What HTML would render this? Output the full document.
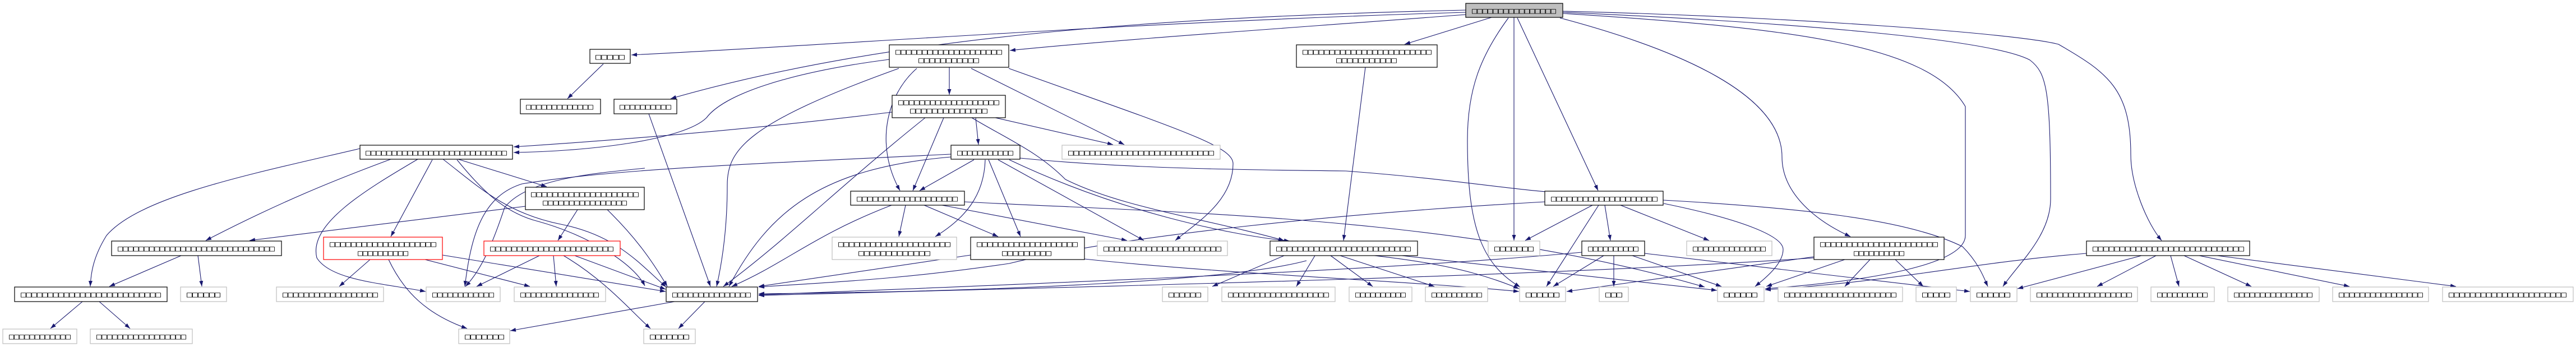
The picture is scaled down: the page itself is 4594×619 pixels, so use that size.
<!DOCTYPE html>
<html><head><meta charset="utf-8"><style>
html,body{margin:0;padding:0;background:#fff;width:4594px;height:619px;overflow:hidden}
svg{display:block}
text{font-family:"DejaVu Sans Mono","Liberation Mono",monospace;font-size:14px;fill:#000}
.n{fill:#fff;stroke:#000;stroke-width:1.2}
.g{fill:#fff;stroke:#bfbfbf;stroke-width:1.2}
.r{fill:#fff;stroke:#ff0000;stroke-width:1.2}
.e{fill:none;stroke:#191970;stroke-width:1.1}
</style></head><body>
<svg width="4594" height="619" viewBox="0 0 4594 619" xmlns="http://www.w3.org/2000/svg">
<defs><marker id="a" markerWidth="11" markerHeight="8" refX="10" refY="3.5" orient="auto" markerUnits="userSpaceOnUse"><path d="M0,0 L10,3.5 L0,7 z" fill="#191970"/></marker></defs>
<g class="e" marker-end="url(#a)">
<!-- root edges -->
<path d="M2614,22 C2000,40 1500,80 1126,98"/>
<path d="M2614,18 C2100,30 1600,60 1196,176"/>
<path d="M2614,26 C2300,50 2000,70 1801,90"/>
<path d="M2660,31 L2505,79"/>
<path d="M2690,32 C2640,100 2617,160 2617,250 C2617,400 2640,470 2711,512"/>
<path d="M2700,31 L2700,429"/>
<path d="M2706,32 L2850,340"/>
<path d="M2782,32 C3000,90 3178,170 3178,280 C3178,340 3230,390 3300,422"/>
<path d="M2787,20 C3200,30 3600,60 3671,79 C3760,130 3800,160 3800,276 C3800,330 3830,400 3855,429"/>
<path d="M2787,22 C3200,40 3550,70 3620,107 C3650,130 3657,160 3657,355 C3657,420 3600,470 3572,511"/>
<path d="M2787,24 C3200,50 3440,80 3505,190 C3505,300 3505,395 3505,420 C3505,470 3350,500 3148,515"/>
<!-- A -->
<path d="M1076,114 L1012,176"/>
<path d="M1157,203 L1267,511"/>
<!-- G1 -->
<path d="M1693,120 L1693,169"/>
<path d="M1603,122 C1330,220 1297,268 1297,330 C1297,420 1285,480 1278,511"/>
<path d="M1635,122 C1580,170 1560,260 1605,340"/>
<path d="M1732,122 L2005,258"/>
<path d="M1799,122 C2100,230 2199,260 2199,292 C2199,360 2130,400 2096,429"/>
<path d="M1586,106 C1400,130 1290,170 1260,210 C1220,250 1050,270 916,272"/>
<!-- G2 -->
<path d="M1591,200 C1350,230 1100,250 916,262"/>
<path d="M1740,210 L1745,258"/>
<path d="M1683,210 L1628,340"/>
<path d="M1650,210 C1500,330 1400,430 1290,511"/>
<path d="M1775,210 L1985,258"/>
<path d="M1733,210 C1800,250 1850,270 1900,320 C2000,370 2150,390 2290,429"/>
<!-- G3 -->
<path d="M1737,285 L1640,340"/>
<path d="M1696,280 C1460,300 1370,380 1300,511"/>
<path d="M1757,285 C1755,350 1720,390 1668,422"/>
<path d="M1763,285 L1820,422"/>
<path d="M1780,285 L2040,429"/>
<path d="M1819,282 C2000,300 2200,303 2400,305 C2600,320 2700,340 2800,345"/>
<path d="M1696,275 C1400,290 1100,300 931,328 C860,350 840,420 829,511"/>
<path d="M1800,285 C2000,380 2200,420 2300,430"/>
<!-- G5 -->
<path d="M1615,366 L1603,422"/>
<path d="M1648,366 L1780,422"/>
<path d="M1590,366 C1450,420 1400,470 1305,511"/>
<path d="M1680,366 L2010,429"/>
<path d="M1720,360 C2100,380 2600,385 3040,512"/>
<!-- G7 -->
<path d="M1731,455 L1353,511"/>
<path d="M1934,462 C2200,490 2500,500 2709,520"/>
<!-- long lines to H1 -->
<path d="M2755,360 C2400,380 2000,420 1800,470 C1600,500 1450,505 1353,512"/>
<path d="M2330,465 C2200,500 1800,520 1353,524"/>
<path d="M2821,450 C2500,480 2000,500 1353,526"/>
<path d="M3235,460 C2800,490 2200,505 1353,527"/>
<!-- G9, I1 -->
<path d="M2435,120 L2396,429"/>
<path d="M2290,456 L2162,511"/>
<path d="M2345,456 L2312,511"/>
<path d="M2373,456 L2448,511"/>
<path d="M2390,456 L2558,511"/>
<path d="M2500,456 L3062,518"/>
<path d="M2300,440 C2500,460 2600,470 2709,515"/>
<!-- I2 -->
<path d="M2840,366 L2720,429"/>
<path d="M2851,366 L2758,511"/>
<path d="M2862,366 L2872,429"/>
<path d="M2890,366 L3048,429"/>
<path d="M2967,363 C3100,390 3180,420 3180,445 C3180,470 3150,495 3130,511"/>
<path d="M2966,357 C3200,370 3400,390 3500,440 C3530,470 3540,500 3545,511"/>
<!-- I4 -->
<path d="M2860,456 L2770,511"/>
<path d="M2878,456 L2878,511"/>
<path d="M2911,456 L3070,511"/>
<path d="M2933,452 L3513,520"/>
<!-- I6 -->
<path d="M3290,463 L3150,511"/>
<path d="M3335,463 L3290,511"/>
<path d="M3380,463 L3430,511"/>
<path d="M3235,458 L2794,520"/>
<!-- K1 -->
<path d="M3819,456 L3598,515"/>
<path d="M3845,456 L3740,511"/>
<path d="M3871,456 L3886,511"/>
<path d="M3895,456 L4015,511"/>
<path d="M3922,456 L4190,511"/>
<path d="M3954,456 L4380,511"/>
<path d="M3721,452 C3500,470 3400,500 3148,517"/>
<!-- B1 -->
<path d="M642,265 C450,310 250,350 190,420 C165,460 162,490 161,511"/>
<path d="M697,284 C600,320 500,360 367,429"/>
<path d="M745,284 C650,340 550,400 565,460 C590,500 680,505 759,520"/>
<path d="M771,285 L697,422"/>
<path d="M815,285 C860,340 900,380 960,395 C1050,420 1130,470 1150,510"/>
<path d="M817,284 L975,333"/>
<path d="M790,284 C850,330 900,380 1000,400 C1100,420 1140,470 1188,512"/>
<!-- C1 -->
<path d="M937,368 L445,429"/>
<path d="M1030,374 L995,429"/>
<path d="M1083,374 C1130,420 1160,460 1190,511"/>
<path d="M1150,300 C1050,310 940,320 900,370 C880,430 860,480 830,511"/>
<!-- D -->
<path d="M323,456 L195,511"/>
<path d="M353,456 L360,511"/>
<path d="M147,538 L90,586"/>
<path d="M177,538 L232,586"/>
<path d="M660,463 L605,511"/>
<path d="M693,463 C720,520 760,560 833,586"/>
<path d="M758,463 L945,511"/>
<path d="M789,455 L1187,520"/>
<path d="M962,456 L850,511"/>
<path d="M987,456 L992,511"/>
<path d="M1005,456 C1080,500 1130,560 1160,586"/>
<path d="M1025,456 L1187,516"/>
<!-- H1 -->
<path d="M1257,538 L1210,586"/>
<path d="M1203,538 L910,590"/>
</g>
<!-- nodes -->
<g>
<rect x="2614" y="6" width="173" height="25" fill="#bfbfbf" stroke="#000" stroke-width="1.2"/><text x="2625" y="24" textLength="150" lengthAdjust="spacingAndGlyphs">□□□□□□□□□□□□□□□□</text>
<rect class="n" x="1052" y="88" width="72" height="25"/><text x="1062" y="106" textLength="52" lengthAdjust="spacingAndGlyphs">□□□□□</text>
<rect class="n" x="928" y="177" width="143" height="26"/><text x="938" y="195" textLength="120" lengthAdjust="spacingAndGlyphs">□□□□□□□□□□□□□</text>
<rect class="n" x="1095" y="177" width="112" height="26"/><text x="1105" y="195" textLength="92" lengthAdjust="spacingAndGlyphs">□□□□□□□□□□</text>
<rect class="n" x="642" y="259" width="272" height="25"/><text x="652" y="277" textLength="252" lengthAdjust="spacingAndGlyphs">□□□□□□□□□□□□□□□□□□□□□□□□□□□</text>
<rect class="n" x="937" y="334" width="212" height="40"/><text x="947" y="351" textLength="192" lengthAdjust="spacingAndGlyphs">□□□□□□□□□□□□□□□□□□□□</text><text x="968" y="366" textLength="150" lengthAdjust="spacingAndGlyphs">□□□□□□□□□□□□□□□□</text>
<rect class="n" x="199" y="430" width="303" height="26"/><text x="210" y="448" textLength="280" lengthAdjust="spacingAndGlyphs">□□□□□□□□□□□□□□□□□□□□□□□□□□□□□□</text>
<rect class="r" x="577" y="423" width="212" height="40"/><text x="588" y="440" textLength="190" lengthAdjust="spacingAndGlyphs">□□□□□□□□□□□□□□□□□□□□</text><text x="638" y="456" textLength="90" lengthAdjust="spacingAndGlyphs">□□□□□□□□□□</text>
<rect class="r" x="863" y="430" width="243" height="26"/><text x="874" y="448" textLength="220" lengthAdjust="spacingAndGlyphs">□□□□□□□□□□□□□□□□□□□□□□□</text>
<rect class="n" x="26" y="512" width="272" height="26"/><text x="37" y="530" textLength="250" lengthAdjust="spacingAndGlyphs">□□□□□□□□□□□□□□□□□□□□□□□□□□</text>
<rect class="g" x="322" y="512" width="82" height="26"/><text x="333" y="530" textLength="60" lengthAdjust="spacingAndGlyphs">□□□□□□</text>
<rect class="g" x="493" y="512" width="191" height="26"/><text x="504" y="530" textLength="170" lengthAdjust="spacingAndGlyphs">□□□□□□□□□□□□□□□□□□</text>
<rect class="g" x="760" y="512" width="132" height="26"/><text x="771" y="530" textLength="110" lengthAdjust="spacingAndGlyphs">□□□□□□□□□□□□</text>
<rect class="g" x="917" y="512" width="163" height="26"/><text x="928" y="530" textLength="140" lengthAdjust="spacingAndGlyphs">□□□□□□□□□□□□□□□</text>
<rect class="g" x="5" y="587" width="132" height="26"/><text x="16" y="605" textLength="110" lengthAdjust="spacingAndGlyphs">□□□□□□□□□□□□</text>
<rect class="g" x="161" y="587" width="182" height="26"/><text x="172" y="605" textLength="160" lengthAdjust="spacingAndGlyphs">□□□□□□□□□□□□□□□□□</text>
<rect class="g" x="818" y="587" width="91" height="26"/><text x="829" y="605" textLength="70" lengthAdjust="spacingAndGlyphs">□□□□□□□</text>
<rect class="g" x="1148" y="587" width="92" height="26"/><text x="1159" y="605" textLength="70" lengthAdjust="spacingAndGlyphs">□□□□□□□</text>
<rect class="n" x="1586" y="80" width="213" height="40"/><text x="1597" y="97" textLength="190" lengthAdjust="spacingAndGlyphs">□□□□□□□□□□□□□□□□□□□□</text><text x="1638" y="112" textLength="108" lengthAdjust="spacingAndGlyphs">□□□□□□□□□□□</text>
<rect class="n" x="1591" y="170" width="202" height="40"/><text x="1602" y="187" textLength="180" lengthAdjust="spacingAndGlyphs">□□□□□□□□□□□□□□□□□□□</text><text x="1623" y="202" textLength="138" lengthAdjust="spacingAndGlyphs">□□□□□□□□□□□□□□</text>
<rect class="n" x="1696" y="259" width="123" height="25"/><text x="1707" y="277" textLength="100" lengthAdjust="spacingAndGlyphs">□□□□□□□□□□□</text>
<rect class="g" x="1894" y="259" width="282" height="25"/><text x="1905" y="277" textLength="260" lengthAdjust="spacingAndGlyphs">□□□□□□□□□□□□□□□□□□□□□□□□□□□</text>
<rect class="n" x="1517" y="341" width="203" height="25"/><text x="1528" y="359" textLength="180" lengthAdjust="spacingAndGlyphs">□□□□□□□□□□□□□□□□□□□</text>
<rect class="g" x="1484" y="423" width="222" height="40"/><text x="1495" y="440" textLength="200" lengthAdjust="spacingAndGlyphs">□□□□□□□□□□□□□□□□□□□□□</text><text x="1531" y="456" textLength="128" lengthAdjust="spacingAndGlyphs">□□□□□□□□□□□□□</text>
<rect class="n" x="1731" y="423" width="203" height="40"/><text x="1742" y="440" textLength="180" lengthAdjust="spacingAndGlyphs">□□□□□□□□□□□□□□□□□□□</text><text x="1787" y="456" textLength="88" lengthAdjust="spacingAndGlyphs">□□□□□□□□□</text>
<rect class="g" x="1957" y="430" width="232" height="26"/><text x="1968" y="448" textLength="210" lengthAdjust="spacingAndGlyphs">□□□□□□□□□□□□□□□□□□□□□□</text>
<rect class="n" x="2265" y="430" width="263" height="26"/><text x="2276" y="448" textLength="240" lengthAdjust="spacingAndGlyphs">□□□□□□□□□□□□□□□□□□□□□□□□□</text>
<rect class="n" x="1188" y="512" width="163" height="26"/><text x="1199" y="530" textLength="140" lengthAdjust="spacingAndGlyphs">□□□□□□□□□□□□□□□</text>
<rect class="g" x="2073" y="512" width="81" height="26"/><text x="2084" y="530" textLength="58" lengthAdjust="spacingAndGlyphs">□□□□□□</text>
<rect class="g" x="2179" y="512" width="202" height="26"/><text x="2190" y="530" textLength="180" lengthAdjust="spacingAndGlyphs">□□□□□□□□□□□□□□□□□□□</text>
<rect class="n" x="2312" y="80" width="251" height="40"/><text x="2323" y="97" textLength="230" lengthAdjust="spacingAndGlyphs">□□□□□□□□□□□□□□□□□□□□□□□□</text><text x="2383" y="112" textLength="108" lengthAdjust="spacingAndGlyphs">□□□□□□□□□□□</text>
<rect class="n" x="2755" y="341" width="211" height="25"/><text x="2766" y="359" textLength="190" lengthAdjust="spacingAndGlyphs">□□□□□□□□□□□□□□□□□□□□</text>
<rect class="g" x="2654" y="430" width="92" height="26"/><text x="2665" y="448" textLength="70" lengthAdjust="spacingAndGlyphs">□□□□□□□</text>
<rect class="n" x="2821" y="430" width="112" height="26"/><text x="2832" y="448" textLength="90" lengthAdjust="spacingAndGlyphs">□□□□□□□□□□</text>
<rect class="g" x="3008" y="430" width="152" height="26"/><text x="3019" y="448" textLength="130" lengthAdjust="spacingAndGlyphs">□□□□□□□□□□□□□□</text>
<rect class="n" x="3235" y="423" width="232" height="40"/><text x="3246" y="440" textLength="210" lengthAdjust="spacingAndGlyphs">□□□□□□□□□□□□□□□□□□□□□□</text><text x="3306" y="456" textLength="90" lengthAdjust="spacingAndGlyphs">□□□□□□□□□□</text>
<rect class="g" x="2406" y="512" width="112" height="26"/><text x="2417" y="530" textLength="90" lengthAdjust="spacingAndGlyphs">□□□□□□□□□□</text>
<rect class="g" x="2542" y="512" width="111" height="26"/><text x="2553" y="530" textLength="90" lengthAdjust="spacingAndGlyphs">□□□□□□□□□□</text>
<rect class="g" x="2710" y="512" width="82" height="26"/><text x="2721" y="530" textLength="60" lengthAdjust="spacingAndGlyphs">□□□□□□</text>
<rect class="g" x="2852" y="512" width="52" height="26"/><text x="2863" y="530" textLength="30" lengthAdjust="spacingAndGlyphs">□□□</text>
<rect class="g" x="3063" y="512" width="83" height="26"/><text x="3074" y="530" textLength="60" lengthAdjust="spacingAndGlyphs">□□□□□□</text>
<rect class="g" x="3171" y="512" width="222" height="26"/><text x="3182" y="530" textLength="200" lengthAdjust="spacingAndGlyphs">□□□□□□□□□□□□□□□□□□□□□</text>
<rect class="g" x="3417" y="512" width="72" height="26"/><text x="3428" y="530" textLength="50" lengthAdjust="spacingAndGlyphs">□□□□□</text>
<rect class="n" x="3721" y="430" width="291" height="26"/><text x="3732" y="448" textLength="270" lengthAdjust="spacingAndGlyphs">□□□□□□□□□□□□□□□□□□□□□□□□□□□□</text>
<rect class="g" x="3514" y="512" width="83" height="26"/><text x="3525" y="530" textLength="60" lengthAdjust="spacingAndGlyphs">□□□□□□</text>
<rect class="g" x="3621" y="512" width="191" height="26"/><text x="3632" y="530" textLength="170" lengthAdjust="spacingAndGlyphs">□□□□□□□□□□□□□□□□□□</text>
<rect class="g" x="3836" y="512" width="113" height="26"/><text x="3847" y="530" textLength="90" lengthAdjust="spacingAndGlyphs">□□□□□□□□□□</text>
<rect class="g" x="3973" y="512" width="163" height="26"/><text x="3984" y="530" textLength="140" lengthAdjust="spacingAndGlyphs">□□□□□□□□□□□□□□□</text>
<rect class="g" x="4160" y="512" width="171" height="26"/><text x="4171" y="530" textLength="150" lengthAdjust="spacingAndGlyphs">□□□□□□□□□□□□□□□□</text>
<rect class="g" x="4356" y="512" width="233" height="26"/><text x="4367" y="530" textLength="210" lengthAdjust="spacingAndGlyphs">□□□□□□□□□□□□□□□□□□□□□□</text>
</g>
</svg>
</body></html>
